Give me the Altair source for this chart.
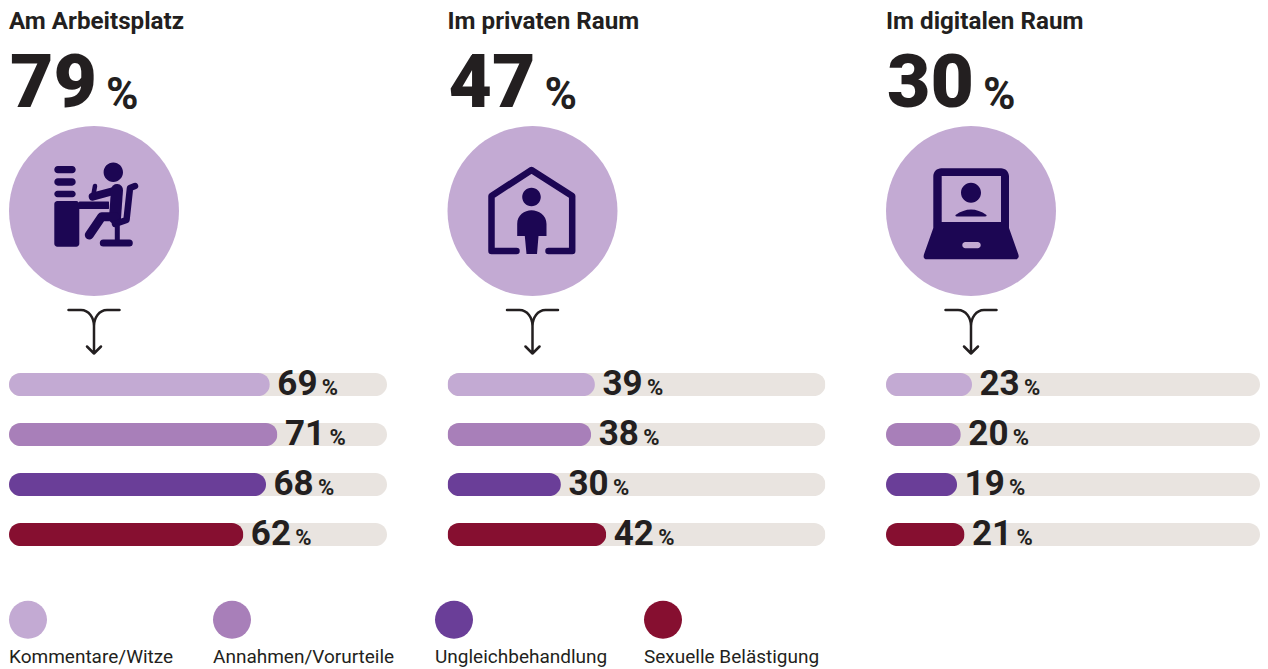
import altair as alt
import pandas as pd

bereiche = ["Am Arbeitsplatz", "Im privaten Raum", "Im digitalen Raum"]
gesamt = [79, 47, 30]
kategorien = ["Kommentare/Witze", "Annahmen/Vorurteile", "Ungleichbehandlung", "Sexuelle Belästigung"]
werte_arbeit = [69, 71, 68, 62]
werte_privat = [39, 38, 30, 42]
werte_digital = [23, 20, 19, 21]
farben = ["#c3aad3", "#a87fb9", "#6a3e98", "#860f30"]

TRACK = "#e9e4e0"
INK = "#231f20"
ICON = "#1c0653"
FONT = "Roboto"


def rrect(x0, y0, x1, y1, r, hole=False):
    if hole:
        return (f"M{x0+r},{y0} A{r},{r} 0 0 0 {x0},{y0+r} L{x0},{y1-r} A{r},{r} 0 0 0 {x0+r},{y1} "
                f"L{x1-r},{y1} A{r},{r} 0 0 0 {x1},{y1-r} L{x1},{y0+r} A{r},{r} 0 0 0 {x1-r},{y0} Z ")
    return (f"M{x0+r},{y0} L{x1-r},{y0} A{r},{r} 0 0 1 {x1},{y0+r} L{x1},{y1-r} A{r},{r} 0 0 1 {x1-r},{y1} "
            f"L{x0+r},{y1} A{r},{r} 0 0 1 {x0},{y1-r} L{x0},{y0+r} A{r},{r} 0 0 1 {x0+r},{y0} Z ")


def disc(cx, cy, r):
    return f"M{cx-r},{cy} A{r},{r} 0 1 1 {cx+r},{cy} A{r},{r} 0 1 1 {cx-r},{cy} Z "


ARROW = ("M-25.5,-23 L-13,-23 C-5,-23 0,-15 0,-7 L0,20.5 M-7,13.5 L0,20.5 L7,13.5 "
         "M25.5,-23 L13,-23 C5,-23 0,-15 0,-7")

icon_desk_fill = (disc(19.3, -38.7, 9.7)
                  + rrect(-39.7, -45, -18.3, -37.7, 3.6)
                  + rrect(-39.7, -32.7, -18.3, -25.3, 3.6)
                  + rrect(-39.7, -20.3, -18.3, -13.7, 3.3)
                  + rrect(-39.7, -10, -14.7, 35.7, 3)
                  + rrect(-15, -9.5, 15, -2, 0.5))
icon_desk_strokes = [
    ("M23.3,-21 L-1.3,-14.3", 8),
    ("M-1,-14 L1,-25", 4.5),
    ("M23,-21 L21,7", 12),
    ("M21,5.7 L7.7,5.7 L-4.7,24", 9),
    ("M41,-25 L36,-23 L32.5,9 L21,13", 6.5),
    ("M23.3,15 L23.3,31", 5),
    ("M9.3,32 L35.3,32", 7),
]
icon_house_fill = (disc(-1, -14, 9.3)
                   + "M-15.3,25 L-15.3,13 C-15.3,4 -8,-0.7 -1,-0.7 C6,-0.7 14,4 14,13 L14,25 L6,25 "
                     "L4.5,43 L-6,43 L-7.7,25 Z")
icon_house_strokes = [("M-16,40 L-41,40 L-41,-15 L-1,-41 L39.7,-15 L39.7,40 L16,40", 6.5)]
icon_laptop_fill = ("M-37.7,-34.7 A8,8 0 0 1 -29.7,-42.7 L30,-42.7 A8,8 0 0 1 38,-34.7 L38,17 L47.3,43.3 "
                    "Q49,48.3 44,48.3 L-44,48.3 Q-48.5,48.3 -47,43.3 L-37.7,17 Z "
                    "M-29.3,-35 L-29.3,11 L30,11 L30,-35 Z "
                    + rrect(-8.7, 31, 9.7, 37.3, 3, hole=True)
                    + disc(0, -18.3, 10)
                    + "M-15.5,4 Q0,-7 15.5,4 Q16,5.5 14,5.5 L-14,5.5 Q-16,5.5 -15.5,4 Z")
icons = [(icon_desk_fill, icon_desk_strokes), (icon_house_fill, icon_house_strokes), (icon_laptop_fill, [])]

farbskala = alt.Scale(domain=kategorien, range=farben)
y_skala = alt.Scale(type="point", domain=kategorien, range=[376.6, 526.6], padding=0)
ANCHOR = dict(x=alt.value(85), y=alt.value(203))


def panel(name, total, werte, icon, breite):
    d = pd.DataFrame({"kategorie": kategorien, "wert": werte, "voll": [100] * len(werte)})
    kopf = pd.DataFrame({"name": [name], "gesamt": [str(total)], "einheit": ["%"]})
    y = alt.Y("kategorie:N", scale=y_skala, axis=None, sort=kategorien)
    x_axis = dict(scale=alt.Scale(domain=[0, 100], range=[0, breite], nice=False, zero=True), axis=None)

    track = alt.Chart(d).mark_bar(size=23, cornerRadius=11.5, color=TRACK).encode(
        x=alt.X("voll:Q", **x_axis), y=y)
    bar = alt.Chart(d).mark_bar(size=23, cornerRadius=11.5).encode(
        x=alt.X("wert:Q", **x_axis), y=y,
        color=alt.Color("kategorie:N", scale=farbskala, legend=None))
    num = alt.Chart(d).mark_text(align="left", baseline="alphabetic", font=FONT, fontWeight="bold",
                                 fontSize=35, color=INK, dx=7.5, dy=10).encode(
        x=alt.X("wert:Q", **x_axis), y=y, text=alt.Text("wert:Q"))
    pct = alt.Chart(d).mark_text(align="left", baseline="alphabetic", font=FONT, fontWeight="bold",
                                 fontSize=22, color=INK, dx=52, dy=10.5).encode(
        x=alt.X("wert:Q", **x_axis), y=y, text=alt.value("%"))

    title = alt.Chart(kopf).mark_text(align="left", baseline="alphabetic", font=FONT, fontWeight="bold",
                                      fontSize=24.2, color=INK).encode(
        x=alt.value(0), y=alt.value(20.5), text="name:N")
    big = alt.Chart(kopf).mark_text(align="left", baseline="alphabetic", font=FONT, fontWeight=900,
                                    fontSize=75, color=INK).encode(
        x=alt.value(1), y=alt.value(99), text="gesamt:N")
    big_pct = alt.Chart(kopf).mark_text(align="left", baseline="alphabetic", font=FONT, fontWeight="bold",
                                        fontSize=44, color=INK).encode(
        x=alt.value(97), y=alt.value(100.5), text="einheit:N")
    circle = alt.Chart(kopf).mark_circle(size=28900, color=farben[0], opacity=1).encode(**ANCHOR)
    layers = [track, bar, num, pct, title, big, big_pct, circle]

    fill, strokes = icon
    layers.append(alt.Chart(kopf).mark_point(shape=fill, size=4, filled=True, color=ICON, opacity=1).encode(**ANCHOR))
    for p, w in strokes:
        layers.append(alt.Chart(kopf).mark_point(shape=p, size=4, filled=False, color=ICON, opacity=1,
                                                 strokeWidth=w, strokeCap="round", strokeJoin="round").encode(**ANCHOR))
    layers.append(alt.Chart(kopf).mark_point(shape=ARROW, size=4, filled=False, color=INK, opacity=1,
                                             strokeWidth=2.5, strokeCap="round", strokeJoin="round").encode(
        x=alt.value(85), y=alt.value(325)))
    return alt.layer(*layers).properties(width=breite, height=590)


reihen = [werte_arbeit, werte_privat, werte_digital]
breiten = [378, 378, 374]
panels = [panel(bereiche[i], gesamt[i], reihen[i], icons[i], breiten[i]) for i in range(3)]

leg_x = [0, 204, 426, 635]
leg_df = pd.DataFrame({"kategorie": kategorien})
leg_layers = []
for i, k in enumerate(kategorien):
    one = leg_df[leg_df.kategorie == k]
    leg_layers.append(alt.Chart(one).mark_circle(size=1444, opacity=1).encode(
        x=alt.value(leg_x[i] + 19), y=alt.value(21.7),
        color=alt.Color("kategorie:N", scale=farbskala, legend=None)))
    leg_layers.append(alt.Chart(one).mark_text(align="left", baseline="alphabetic", font=FONT, fontSize=19,
                                               color=INK).encode(
        x=alt.value(leg_x[i]), y=alt.value(64.7), text="kategorie:N"))
legend = alt.layer(*leg_layers).properties(width=1251, height=70)

row = alt.hconcat(*panels, spacing=60.5, bounds="flush")
chart = (alt.vconcat(row, legend, spacing=0)
         .properties(padding={"left": 1, "top": 0, "right": 0, "bottom": 0}, background="white")
         .configure_view(stroke=None))

chart.save("out.html", embed_options={"renderer": "svg", "actions": False})
